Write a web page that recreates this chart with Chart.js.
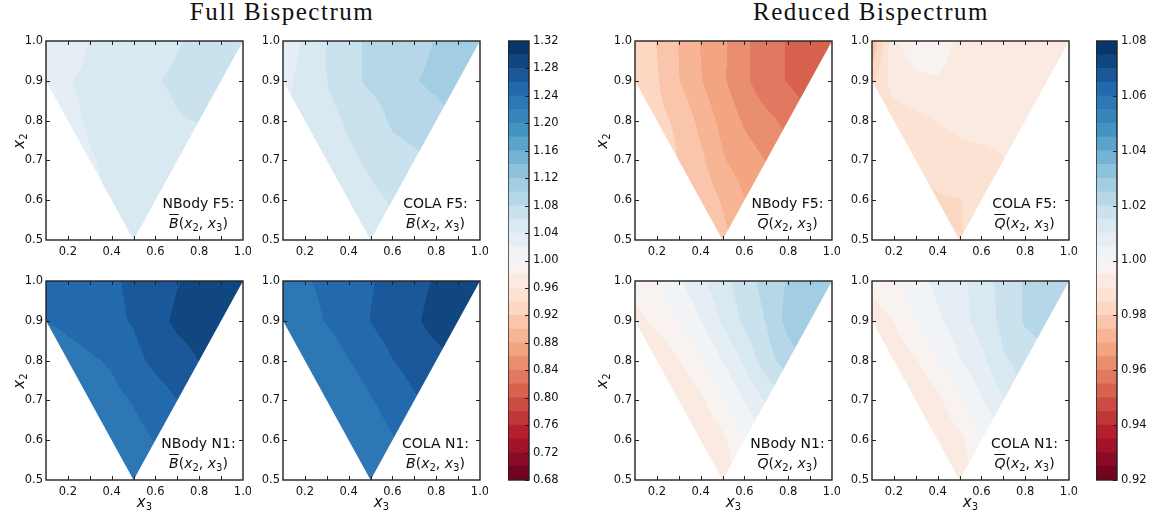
<!DOCTYPE html>
<html>
<head>
<meta charset="utf-8">
<script src="https://cdn.jsdelivr.net/npm/chart.js@4.4.1/dist/chart.umd.min.js"></script>
<style>
  body { margin: 0; background: #fff; }
  #fig { position: relative; width: 1157px; height: 517px; overflow: hidden; background: #fff; }
  #fig canvas { position: absolute; }
  .ttl { position: absolute; width: 400px; text-align: center; font: 25px/24px 'Liberation Serif', serif; letter-spacing: 1.5px; color: #111; }
  .ann { position: absolute; width: 110px; text-align: center; font: 14px/20px 'DejaVu Sans', sans-serif; color: #111; white-space: nowrap; }
  .ann .bar { font-style: italic; text-decoration: overline; }
  .ann i, .axl i { font-style: italic; }
  .ann sub, .axl sub { font-size: 10px; line-height: 0; vertical-align: -3px; font-style: normal; }
  .axl { position: absolute; width: 40px; height: 20px; text-align: center; font: 15px/20px 'DejaVu Sans', sans-serif; color: #111; white-space: nowrap; }
</style>
</head>
<body>
<div id="fig"></div>
<script>
// sample grid: columns are x3, rows are x2 (top row x2 = 1.0)
const gridX3 = [0.1, 0.2, 0.3, 0.4, 0.5, 0.6, 0.7, 0.8, 0.9, 1.0];
const gridX2 = [1.0, 0.9, 0.8, 0.7, 0.6, 0.5];

// full bispectrum ratios
const bispecNbodyF5 = [
  [1.030, 1.034, 1.0405, 1.045, 1.049, 1.053, 1.059, 1.063, 1.066, 1.068],
  [1.034, 1.0395, 1.042, 1.046, 1.051, 1.0592, 1.0625, 1.066, 1.069, 1.071],
  [1.030, 1.037, 1.0415, 1.046, 1.050, 1.054, 1.059, 1.0605, 1.063, 1.066],
  [1.028, 1.034, 1.039, 1.0425, 1.046, 1.049, 1.052, 1.055, 1.058, 1.060],
  [1.026, 1.032, 1.037, 1.041, 1.045, 1.048, 1.051, 1.054, 1.056, 1.058],
  [1.024, 1.030, 1.035, 1.040, 1.045, 1.048, 1.051, 1.054, 1.056, 1.058]
];
const bispecColaF5 = [
  [1.030, 1.0425, 1.061, 1.072, 1.085, 1.089, 1.094, 1.101, 1.108, 1.114],
  [1.034, 1.047, 1.060, 1.072, 1.085, 1.090, 1.099, 1.104, 1.110, 1.115],
  [1.040, 1.047, 1.054, 1.0625, 1.068, 1.084, 1.090, 1.094, 1.100, 1.106],
  [1.040, 1.045, 1.051, 1.057, 1.063, 1.070, 1.075, 1.085, 1.090, 1.095],
  [1.040, 1.044, 1.048, 1.052, 1.056, 1.0615, 1.067, 1.072, 1.077, 1.080],
  [1.038, 1.042, 1.046, 1.050, 1.054, 1.058, 1.062, 1.066, 1.070, 1.074]
];
const bispecNbodyN1 = [
  [1.243, 1.247, 1.251, 1.2575, 1.2632, 1.268, 1.279, 1.285, 1.290, 1.295],
  [1.2402, 1.245, 1.250, 1.256, 1.2617, 1.273, 1.284, 1.288, 1.293, 1.297],
  [1.225, 1.232, 1.2375, 1.2425, 1.254, 1.265, 1.272, 1.2805, 1.286, 1.290],
  [1.215, 1.222, 1.228, 1.234, 1.2415, 1.2505, 1.260, 1.268, 1.275, 1.280],
  [1.205, 1.212, 1.219, 1.226, 1.233, 1.241, 1.248, 1.255, 1.260, 1.265],
  [1.200, 1.206, 1.212, 1.218, 1.225, 1.232, 1.238, 1.244, 1.250, 1.255]
];
const bispecColaN1 = [
  [1.232, 1.238, 1.2445, 1.250, 1.2585, 1.266, 1.273, 1.2825, 1.289, 1.294],
  [1.226, 1.232, 1.2415, 1.250, 1.2605, 1.269, 1.277, 1.287, 1.2925, 1.296],
  [1.215, 1.222, 1.229, 1.2395, 1.249, 1.2595, 1.268, 1.274, 1.280, 1.287],
  [1.210, 1.216, 1.2225, 1.229, 1.2385, 1.248, 1.2575, 1.266, 1.274, 1.280],
  [1.200, 1.207, 1.214, 1.2215, 1.230, 1.2385, 1.247, 1.255, 1.262, 1.268],
  [1.200, 1.205, 1.210, 1.215, 1.222, 1.230, 1.237, 1.244, 1.250, 1.256]
];

// reduced bispectrum ratios
const reducedNbodyF5 = [
  [0.9845, 0.9798, 0.9748, 0.9698, 0.966, 0.9608, 0.9575, 0.9545, 0.952, 0.9505],
  [0.9845, 0.9805, 0.9752, 0.9703, 0.9658, 0.9612, 0.9565, 0.9547, 0.952, 0.9505],
  [0.984, 0.9815, 0.979, 0.9735, 0.9685, 0.9643, 0.9615, 0.9585, 0.956, 0.954],
  [0.987, 0.9835, 0.9798, 0.9762, 0.9705, 0.9675, 0.9648, 0.962, 0.959, 0.956],
  [0.989, 0.9855, 0.982, 0.9785, 0.9745, 0.9702, 0.9665, 0.963, 0.960, 0.957],
  [0.990, 0.987, 0.9835, 0.9798, 0.9765, 0.9725, 0.969, 0.966, 0.963, 0.960]
];
const reducedColaF5 = [
  [0.975, 0.9948, 0.9965, 0.9965, 0.9945, 0.993, 0.9925, 0.992, 0.9915, 0.991],
  [0.984, 0.9925, 0.9945, 0.9948, 0.9935, 0.9925, 0.992, 0.9915, 0.991, 0.9905],
  [0.982, 0.987, 0.9885, 0.9903, 0.9912, 0.9915, 0.9912, 0.991, 0.991, 0.991],
  [0.980, 0.983, 0.986, 0.987, 0.9885, 0.989, 0.9899, 0.9905, 0.991, 0.991],
  [0.978, 0.980, 0.983, 0.9845, 0.9848, 0.9865, 0.988, 0.989, 0.9899, 0.9899],
  [0.976, 0.978, 0.980, 0.982, 0.9848, 0.986, 0.987, 0.988, 0.989, 0.9899]
];
const reducedNbodyN1 = [
  [0.9965, 0.9997, 1.0044, 1.0091, 1.0133, 1.0178, 1.0219, 1.0255, 1.028, 1.0295],
  [0.9935, 0.9962, 0.9997, 1.0049, 1.0106, 1.0162, 1.0203, 1.0268, 1.0288, 1.0295],
  [0.988, 0.991, 0.9948, 0.9995, 1.0052, 1.011, 1.018, 1.0225, 1.027, 1.029],
  [0.984, 0.987, 0.9905, 0.9938, 0.999, 1.0052, 1.0105, 1.016, 1.021, 1.025],
  [0.980, 0.984, 0.988, 0.991, 0.9938, 0.9996, 1.0052, 1.010, 1.015, 1.020],
  [0.978, 0.981, 0.985, 0.989, 0.9925, 0.9965, 1.001, 1.006, 1.011, 1.016]
];
const reducedColaN1 = [
  [0.9965, 0.9988, 1.0032, 1.0062, 1.0087, 1.0125, 1.0168, 1.0205, 1.0225, 1.0240],
  [0.9925, 0.9952, 0.9998, 1.0042, 1.0078, 1.0122, 1.0163, 1.0207, 1.0225, 1.0240],
  [0.988, 0.9915, 0.9945, 0.9995, 1.0048, 1.0085, 1.0145, 1.0165, 1.019, 1.022],
  [0.982, 0.986, 0.9905, 0.9935, 0.9995, 1.0045, 1.0098, 1.016, 1.017, 1.020],
  [0.978, 0.982, 0.986, 0.991, 0.9935, 0.9993, 1.0045, 1.009, 1.013, 1.017],
  [0.975, 0.979, 0.983, 0.987, 0.992, 0.997, 1.002, 1.007, 1.011, 1.015]
];

// axes and colour bars
const xTickLabels = [0.2, 0.4, 0.6, 0.8, 1.0];
const xTickMarks = [0.2, 0.3, 0.4, 0.5, 0.6, 0.7, 0.8, 0.9];
const yTickLabels = [0.5, 0.6, 0.7, 0.8, 0.9, 1.0];
const yTickMarks = [0.6, 0.7, 0.8, 0.9];
const fullLevels = { min: 0.68, max: 1.32, count: 32 };
const reducedLevels = { min: 0.92, max: 1.08, count: 32 };
const cbTicksFull = [0.68, 0.72, 0.76, 0.80, 0.84, 0.88, 0.92, 0.96, 1.00, 1.04, 1.08, 1.12, 1.16, 1.20, 1.24, 1.28, 1.32];
const cbTicksReduced = [0.92, 0.94, 0.96, 0.98, 1.00, 1.02, 1.04, 1.06, 1.08];
// triangle of allowed configurations (x3, x2)
const triangle = [[0.1, 1.0], [1.0, 1.0], [0.5, 0.5], [0.1, 0.9]];

const rdbuNodes = [[103,0,31],[178,24,43],[214,96,77],[244,165,130],[253,219,199],[247,247,247],
  [209,229,240],[146,197,222],[67,147,195],[33,102,172],[5,48,97]];

function rdbu(t) {
  const i = Math.min(255, Math.max(0, Math.floor(t * 256)));
  const u = i / 255 * 10;
  const k = Math.min(9, Math.floor(u));
  const f = u - k;
  const a = rdbuNodes[k], b = rdbuNodes[k + 1];
  return [0, 1, 2].map(n => Math.round(a[n] + (b[n] - a[n]) * f));
}
function bandRgb(v, lv) {
  let k = Math.floor((v - lv.min) / (lv.max - lv.min) * lv.count + 1e-9);
  k = Math.max(0, Math.min(lv.count - 1, k));
  return rdbu((k + 0.5) / lv.count);
}
function sampleGrid(grid, x3, x2) {
  let fi = (x3 - gridX3[0]) / (gridX3[1] - gridX3[0]);
  let fj = (gridX2[0] - x2) / (gridX2[0] - gridX2[1]);
  fi = Math.max(0, Math.min(gridX3.length - 1.0001, fi));
  fj = Math.max(0, Math.min(gridX2.length - 1.0001, fj));
  const i = Math.floor(fi), j = Math.floor(fj), u = fi - i, w = fj - j;
  return grid[j][i] * (1 - u) * (1 - w) + grid[j][i + 1] * u * (1 - w) +
    grid[j + 1][i] * (1 - u) * w + grid[j + 1][i + 1] * u * w;
}

Chart.defaults.font.family = "'DejaVu Sans', sans-serif";
Chart.defaults.font.size = 11.5;
Chart.defaults.color = '#111';

const contourPlugin = {
  id: 'contour',
  beforeDatasetsDraw(chart, args, opts) {
    const { ctx, chartArea: a, scales: { x, y } } = chart;
    const w = Math.round(a.right - a.left), h = Math.round(a.bottom - a.top);
    const off = document.createElement('canvas');
    off.width = w; off.height = h;
    const octx = off.getContext('2d');
    const img = octx.createImageData(w, h);
    for (let j = 0; j < h; j++) {
      const yv = y.getValueForPixel(a.top + j + 0.5);
      for (let i = 0; i < w; i++) {
        const xv = x.getValueForPixel(a.left + i + 0.5);
        const c = bandRgb(sampleGrid(opts.grid, xv, yv), opts.levels);
        const p = (j * w + i) * 4;
        img.data[p] = c[0]; img.data[p + 1] = c[1]; img.data[p + 2] = c[2]; img.data[p + 3] = 255;
      }
    }
    octx.putImageData(img, 0, 0);
    ctx.save();
    ctx.beginPath();
    triangle.forEach((pt, k) => {
      const px = x.getPixelForValue(pt[0]), py = y.getPixelForValue(pt[1]);
      if (k) ctx.lineTo(px, py); else ctx.moveTo(px, py);
    });
    ctx.closePath();
    ctx.clip();
    ctx.drawImage(off, a.left, a.top);
    ctx.restore();
  },
  afterDraw(chart) {
    const { ctx, chartArea: a, scales: { x, y } } = chart;
    ctx.save();
    ctx.strokeStyle = '#222';
    ctx.lineWidth = 1;
    ctx.beginPath();
    xTickMarks.forEach(v => {
      const px = Math.round(x.getPixelForValue(v)) + 0.5;
      ctx.moveTo(px, a.bottom); ctx.lineTo(px, a.bottom - 4);
      ctx.moveTo(px, a.top); ctx.lineTo(px, a.top + 4);
    });
    yTickMarks.forEach(v => {
      const py = Math.round(y.getPixelForValue(v)) + 0.5;
      ctx.moveTo(a.left, py); ctx.lineTo(a.left + 4, py);
      ctx.moveTo(a.right, py); ctx.lineTo(a.right - 4, py);
    });
    ctx.stroke();
    ctx.lineWidth = 1.4;
    ctx.strokeRect(a.left, a.top, a.right - a.left, a.bottom - a.top);
    ctx.restore();
  }
};

const cbPlugin = {
  id: 'cbframe',
  afterDraw(chart) {
    const { ctx, chartArea: a, scales: { y } } = chart;
    ctx.save();
    ctx.strokeStyle = '#222';
    ctx.lineWidth = 1;
    ctx.beginPath();
    y.ticks.forEach(t => {
      const py = Math.round(y.getPixelForValue(t.value)) + 0.5;
      ctx.moveTo(a.right, py); ctx.lineTo(a.right - 4, py);
    });
    ctx.stroke();
    ctx.lineWidth = 1.4;
    ctx.strokeRect(a.left, a.top, a.right - a.left, a.bottom - a.top);
    ctx.restore();
  }
};

const fig = document.getElementById('fig');
const AREA_W = 197, AREA_H = 199, Y_AXIS_W = 40, X_AXIS_H = 22, PAD_T = 8, PAD_R = 8;

const panels = [
  { grid: bispecNbodyF5, levels: fullLevels, left: 46, top: 41, name: 'NBody F5', q: 'B', yTitleX: 18.5 },
  { grid: bispecColaF5, levels: fullLevels, left: 283, top: 41, name: 'COLA F5', q: 'B' },
  { grid: bispecNbodyN1, levels: fullLevels, left: 46, top: 281, name: 'NBody N1', q: 'B', yTitleX: 18.5, xTitle: true },
  { grid: bispecColaN1, levels: fullLevels, left: 283, top: 281, name: 'COLA N1', q: 'B', xTitle: true },
  { grid: reducedNbodyF5, levels: reducedLevels, left: 635, top: 41, name: 'NBody F5', q: 'Q', yTitleX: 602 },
  { grid: reducedColaF5, levels: reducedLevels, left: 872, top: 41, name: 'COLA F5', q: 'Q' },
  { grid: reducedNbodyN1, levels: reducedLevels, left: 635, top: 281, name: 'NBody N1', q: 'Q', yTitleX: 602, xTitle: true },
  { grid: reducedColaN1, levels: reducedLevels, left: 872, top: 281, name: 'COLA N1', q: 'Q', xTitle: true }
];

function addDiv(cls, html, css) {
  const d = document.createElement('div');
  d.className = cls;
  d.innerHTML = html;
  Object.assign(d.style, css);
  fig.appendChild(d);
  return d;
}

panels.forEach(p => {
  const cv = document.createElement('canvas');
  cv.width = Y_AXIS_W + AREA_W + PAD_R;
  cv.height = PAD_T + AREA_H + X_AXIS_H;
  cv.style.left = (p.left - Y_AXIS_W) + 'px';
  cv.style.top = (p.top - PAD_T) + 'px';
  fig.appendChild(cv);

  new Chart(cv, {
    type: 'scatter',
    data: { datasets: [] },
    plugins: [contourPlugin],
    options: {
      responsive: false,
      animation: false,
      devicePixelRatio: 1,
      layout: { padding: { top: PAD_T, right: PAD_R, left: 0, bottom: 0 } },
      plugins: { legend: { display: false }, tooltip: { enabled: false }, contour: { grid: p.grid, levels: p.levels } },
      scales: {
        x: {
          type: 'linear', min: 0.1, max: 1.0,
          grid: { display: false, drawTicks: false },
          border: { display: false },
          ticks: { padding: 5, maxRotation: 0, autoSkip: false, callback: v => v.toFixed(1) },
          afterBuildTicks: s => { s.ticks = xTickLabels.map(v => ({ value: v })); },
          afterFit: s => { s.height = X_AXIS_H; s.paddingLeft = 0; s.paddingRight = 0; }
        },
        y: {
          type: 'linear', min: 0.5, max: 1.0,
          grid: { display: false, drawTicks: false },
          border: { display: false },
          ticks: { padding: 3, autoSkip: false, callback: v => v.toFixed(1) },
          afterBuildTicks: s => { s.ticks = yTickLabels.map(v => ({ value: v })); },
          afterFit: s => { s.width = Y_AXIS_W; s.paddingTop = 0; s.paddingBottom = 0; }
        }
      }
    }
  });

  addDiv('ann', p.name + ':<br><span class="bar">' + p.q + '</span>(<i>x</i><sub>2</sub>, <i>x</i><sub>3</sub>)',
    { left: (p.left + 152.5 - 55) + 'px', top: (p.top + 151.6) + 'px' });
  if (p.yTitleX !== undefined) {
    addDiv('axl', '<i>x</i><sub>2</sub>',
      { left: (p.yTitleX - 20) + 'px', top: (p.top + AREA_H / 2 - 10) + 'px', transform: 'rotate(-90deg)' });
  }
  if (p.xTitle) {
    addDiv('axl', '<i>x</i><sub>3</sub>',
      { left: (p.left + AREA_W / 2 - 20) + 'px', top: (p.top + AREA_H + 12) + 'px' });
  }
});

// colour bars
function colorbar(left, levels, ticks) {
  const cv = document.createElement('canvas');
  cv.width = 21 + 40;
  cv.height = PAD_T + 439 + PAD_T;
  cv.style.left = left + 'px';
  cv.style.top = (41 - PAD_T) + 'px';
  fig.appendChild(cv);
  const step = (levels.max - levels.min) / levels.count;
  const datasets = [];
  for (let k = 0; k < levels.count; k++) {
    const c = rdbu((k + 0.5) / levels.count);
    datasets.push({
      data: [[levels.min + k * step, levels.min + (k + 1) * step]],
      backgroundColor: 'rgb(' + c.join(',') + ')',
      borderWidth: 0, barPercentage: 1, categoryPercentage: 1, grouped: false
    });
  }
  new Chart(cv, {
    type: 'bar',
    data: { labels: [''], datasets },
    plugins: [cbPlugin],
    options: {
      responsive: false,
      animation: false,
      devicePixelRatio: 1,
      layout: { padding: { top: PAD_T, bottom: PAD_T, left: 0, right: 0 } },
      plugins: { legend: { display: false }, tooltip: { enabled: false } },
      scales: {
        x: { display: false },
        y: {
          position: 'right', min: levels.min, max: levels.max,
          grid: { display: false, drawTicks: false },
          border: { display: false },
          ticks: { padding: 4, autoSkip: false, callback: v => v.toFixed(2) },
          afterBuildTicks: s => { s.ticks = ticks.map(v => ({ value: v })); },
          afterFit: s => { s.width = 40; s.paddingTop = 0; s.paddingBottom = 0; }
        }
      }
    }
  });
}
colorbar(508, fullLevels, cbTicksFull);
colorbar(1096, reducedLevels, cbTicksReduced);

addDiv('ttl', 'Full Bispectrum', { left: (282 - 200) + 'px', top: '0px' });
addDiv('ttl', 'Reduced Bispectrum', { left: (871 - 200) + 'px', top: '0px' });
</script>
</body>
</html>
